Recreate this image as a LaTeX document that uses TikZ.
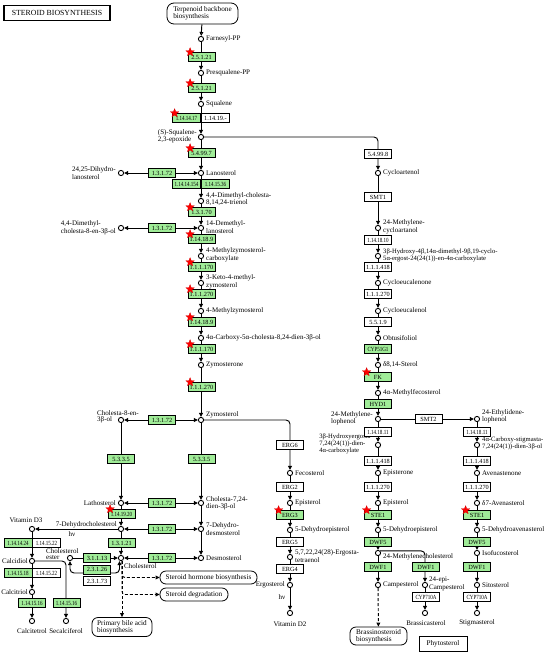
\documentclass[tikz,border=0pt]{standalone}
\usepackage{fontspec}
\usepackage{graphicx}
\setmainfont{Liberation Serif}
\usetikzlibrary{arrows.meta,shapes.geometric,calc}
\definecolor{kgreen}{RGB}{160,236,152}
\pgfdeclarelayer{bg}
\pgfsetlayers{bg,main}
\tikzset{
 cpd/.style={circle,draw,fill=white,line width=0.9pt,inner sep=0pt,minimum size=5.2pt},
 enz/.style={rectangle,draw,fill=white,line width=0.8pt,inner sep=0pt,minimum width=27pt,minimum height=9pt,font=\fontsize{6.3}{6.5}\selectfont},
 genz/.style={enz,fill=kgreen},
 lbl/.style={inner sep=0pt,align=left,font=\fontsize{7}{6}\selectfont},
 conn/.style={line width=0.95pt},
 arr/.style={conn,-{Triangle[length=4pt,width=3.8pt]}},
 arrb/.style={conn,{Triangle[length=4pt,width=3.8pt]}-{Triangle[length=4pt,width=3.8pt]}},
 oarr/.style={conn,-{Triangle[open,length=4pt,width=3.8pt]}},
 darr/.style={conn,dash pattern=on 3pt off 2pt,-{Triangle[open,length=4pt,width=3.8pt]}},
 mapbox/.style={draw,rounded corners=6pt,line width=0.8pt,inner sep=1pt,align=left,font=\fontsize{7.2}{6.8}\selectfont,fill=white},
 kstarst/.style={star,star points=5,star point ratio=2.3,fill=red,draw=red!80!black,line width=0.2pt,inner sep=0pt,minimum size=9pt},
}
\newcommand\kstar[1]{\node[kstarst] (s-#1) at ([xshift=2.5pt]#1.north west) {};}
\newcommand\nw[1]{\scalebox{0.8}[1]{#1}}
\begin{document}
\begin{tikzpicture}[x=1pt,y=-1pt]
\useasboundingbox (0,0) rectangle (550,654);
% title and map boxes
\node[draw,line width=1.3pt,minimum width=106pt,minimum height=15pt,inner sep=0pt,font=\fontsize{7.8}{8}\selectfont] (title) at (57,13) {STEROID BIOSYNTHESIS};
\node[mapbox,minimum width=71pt,minimum height=21pt,rounded corners=7pt] (terp) at (202.5,13.5) {Terpenoid backbone\\biosynthesis};
\node[mapbox,minimum width=97pt,minimum height=13pt,align=center] (hormone) at (208.5,577.5) {Steroid hormone biosynthesis};
\node[mapbox,minimum width=68pt,minimum height=13pt,align=center] (degr) at (194,594.5) {Steroid degradation};
\node[mapbox,minimum width=60pt,minimum height=19pt] (bile) at (122,627) {Primary bile acid\\biosynthesis};
\node[mapbox,minimum width=57pt,minimum height=18pt] (brass) at (378.5,636) {Brassinosteroid\\biosynthesis};
\node[draw,line width=0.8pt,minimum width=48pt,minimum height=15pt,inner sep=0pt,font=\fontsize{7.2}{7}\selectfont] (phyto) at (443,644) {Phytosterol};

% ---------- compounds: main column
\node[cpd] (farn) at (201,39) {};
\node[cpd] (presq) at (201,73) {};
\node[cpd] (squal) at (201,104) {};
\node[cpd] (sqep) at (201,137) {};
\node[cpd] (lano) at (201,173) {};
\node[cpd] (dmct) at (201,201) {};
\node[cpd] (demlano) at (201,228) {};
\node[cpd] (mzc) at (201,256) {};
\node[cpd] (kmz) at (201,283) {};
\node[cpd] (mz) at (201,311) {};
\node[cpd] (carb) at (201,338) {};
\node[cpd] (zymone) at (201,365) {};
\node[cpd] (zym) at (201,420) {};
\node[cpd] (c724) at (201,503) {};
\node[cpd] (dhdes) at (201,529) {};
\node[cpd] (desmo) at (201,558) {};
% left column
\node[cpd] (dhlano) at (121,173) {};
\node[cpd] (dmc8) at (121,228) {};
\node[cpd] (c8) at (121,420) {};
\node[cpd] (latho) at (121,503) {};
\node[cpd] (dhc) at (121,529) {};
\node[cpd] (chol) at (121,558) {};
\node[cpd] (cholest) at (70,558) {};
\node[cpd] (vd3) at (32,529) {};
\node[cpd] (calcidiol) at (32,561) {};
\node[cpd] (calcitriol) at (32,592) {};
\node[cpd] (calcitetrol) at (32,621) {};
\node[cpd] (secal) at (66,621) {};
% right column
\node[cpd] (cycloart) at (378,173) {};
\node[cpd] (mca) at (378,228) {};
\node[cpd] (hdc) at (378,256) {};
\node[cpd] (cycloeuc) at (378,283) {};
\node[cpd] (cycloeucol) at (378,311) {};
\node[cpd] (obtus) at (378,338) {};
\node[cpd] (d814) at (378,365) {};
\node[cpd] (mfec) at (378,393) {};
\node[cpd] (mlop) at (378,419) {};
\node[cpd] (elop) at (477,419) {};
\node[cpd] (hec) at (378,445) {};
\node[cpd] (cstig) at (477,445) {};
\node[cpd] (episterone) at (378,473) {};
\node[cpd] (avenast) at (477,473) {};
\node[cpd] (episterol2) at (378,503) {};
\node[cpd] (d7av) at (477,503) {};
\node[cpd] (dhepi2) at (378,530) {};
\node[cpd] (dhav) at (477,530) {};
\node[cpd] (mchol) at (378,553) {};
\node[cpd] (isofuc) at (477,553) {};
\node[cpd] (campest) at (378,585) {};
\node[cpd] (epicamp) at (425,585) {};
\node[cpd] (sitost) at (477,585) {};
\node[cpd] (brassica) at (425,613) {};
\node[cpd] (stigm) at (477,613) {};
% ERG column
\node[cpd] (fecost) at (290,473) {};
\node[cpd] (episterol1) at (290,503) {};
\node[cpd] (dhepi1) at (290,530) {};
\node[cpd] (ergtet) at (290,557) {};
\node[cpd] (ergost) at (290,585) {};
\node[cpd] (vd2) at (290,613) {};

% ---------- labels
\node[lbl,anchor=west] (l-farn) at (206,39) {Farnesyl-PP};
\node[lbl,anchor=west] (l-presq) at (206,73) {Presqualene-PP};
\node[lbl,anchor=west] (l-squal) at (206,104) {Squalene};
\node[lbl,anchor=east] (l-sqep) at (197,136) {(S)-Squalene-\\2,3-epoxide};
\node[lbl,anchor=west] (l-lano) at (206,173) {Lanosterol};
\node[lbl,anchor=west] (l-dmct) at (206,199) {4,4-Dimethyl-cholesta-\\8,14,24-trienol};
\node[lbl,anchor=west] (l-demlano) at (206,227) {14-Demethyl-\\lanosterol};
\node[lbl,anchor=west] (l-mzc) at (206,255) {4-Methylzymosterol-\\carboxylate};
\node[lbl,anchor=west] (l-kmz) at (206,282) {3-Keto-4-methyl-\\zymosterol};
\node[lbl,anchor=west] (l-mz) at (206,311) {4-Methylzymosterol};
\node[lbl,anchor=west] (l-carb) at (206,338) {4α-Carboxy-5α-cholesta-8,24-dien-3β-ol};
\node[lbl,anchor=west] (l-zymone) at (206,365) {Zymosterone};
\node[lbl,anchor=west] (l-zym) at (206,415) {Zymosterol};
\node[lbl,anchor=west] (l-c724) at (206,503) {Cholesta-7,24-\\dien-3β-ol};
\node[lbl,anchor=west] (l-dhdes) at (206,529) {7-Dehydro-\\desmosterol};
\node[lbl,anchor=west] (l-desmo) at (206,558) {Desmosterol};
\node[lbl,anchor=east] (l-dhlano) at (116,173) {24,25-Dihydro-\\lanosterol};
\node[lbl,anchor=east] (l-dmc8) at (116,228) {4,4-Dimethyl-\\cholesta-8-en-3β-ol};
\node[lbl,anchor=west] (l-c8) at (97,416.5) {Cholesta-8-en-\\3β-ol};
\node[lbl,anchor=east] (l-latho) at (116,503) {Lathosterol};
\node[lbl,anchor=south east] (l-dhc) at (117,528) {7-Dehydrocholesterol};
\node[lbl,anchor=west] (l-chol) at (124,566) {Cholesterol};
\node[lbl,anchor=west] (l-cholest) at (46,554) {Cholesterol\\ester};
\node[lbl] (l-vd3) at (26,520) {Vitamin D3};
\node[lbl,anchor=east] (l-calcidiol) at (28,561) {Calcidiol};
\node[lbl,anchor=east] (l-calcitriol) at (28,592) {Calcitriol};
\node[lbl] (l-calcitetrol) at (32,631) {Calcitetrol};
\node[lbl] (l-secal) at (66,631) {Secalciferol};
\node[lbl] (l-hv1) at (72,534.5) {hν};
\node[lbl,anchor=west] (l-cycloart) at (383,173) {Cycloartenol};
\node[lbl,anchor=west] (l-mca) at (383,227) {24-Methylene-\\cycloartanol};
\node[lbl,anchor=west,font=\fontsize{6.6}{5.5}\selectfont] (l-hdc) at (383,255.5) {3β-Hydroxy-4β,14α-dimethyl-9β,19-cyclo-\\5α-ergost-24(24(1))-en-4α-carboxylate};
\node[lbl,anchor=west] (l-cycloeuc) at (383,283) {Cycloeucalenone};
\node[lbl,anchor=west] (l-cycloeucol) at (383,311) {Cycloeucalenol};
\node[lbl,anchor=west] (l-obtus) at (383,338) {Obtusifoliol};
\node[lbl,anchor=west] (l-d814) at (383,365) {δ8,14-Sterol};
\node[lbl,anchor=west] (l-mfec) at (383,393) {4α-Methylfecosterol};
\node[lbl,anchor=east] (l-mlop) at (373,418) {24-Methylene-\\lophenol};
\node[lbl,anchor=west] (l-elop) at (482,416) {24-Ethylidene-\\lophenol};
\node[lbl,anchor=east,font=\fontsize{6.6}{5.5}\selectfont] (l-hec) at (373,444) {3β-Hydroxyergosta-\\7,24(24(1))-dien-\\4α-carboxylate};
\node[lbl,anchor=west,font=\fontsize{6.6}{5.5}\selectfont] (l-cstig) at (482,443) {4α-Carboxy-stigmasta-\\7,24(24(1))-dien-3β-ol};
\node[lbl,anchor=west] (l-episterone) at (383,473) {Episterone};
\node[lbl,anchor=west] (l-avenast) at (482,473) {Avenastenone};
\node[lbl,anchor=west] (l-episterol2) at (383,503) {Episterol};
\node[lbl,anchor=west] (l-d7av) at (482,503) {δ7-Avenasterol};
\node[lbl,anchor=west] (l-dhepi2) at (383,530) {5-Dehydroepisterol};
\node[lbl,anchor=west] (l-dhav) at (482,530) {5-Dehydroavenasterol};
\node[lbl,anchor=west] (l-mchol) at (383,556.5) {24-Methylenecholesterol};
\node[lbl,anchor=west] (l-isofuc) at (482,553) {Isofucosterol};
\node[lbl,anchor=west] (l-campest) at (383,585) {Campesterol};
\node[lbl,anchor=west] (l-epicamp) at (429,584) {24-epi-\\Campesterol};
\node[lbl,anchor=west] (l-sitost) at (482,585) {Sitosterol};
\node[lbl] (l-brassica) at (426,623) {Brassicasterol};
\node[lbl] (l-stigm) at (477,623) {Stigmasterol};
\node[lbl,anchor=west] (l-fecost) at (295,473) {Fecosterol};
\node[lbl,anchor=west] (l-episterol1) at (295,503) {Episterol};
\node[lbl,anchor=west] (l-dhepi1) at (295,530) {5-Dehydroepisterol};
\node[lbl,anchor=west] (l-ergtet) at (295,556) {5,7,22,24(28)-Ergosta-\\tetraenol};
\node[lbl,anchor=east] (l-ergost) at (285,585) {Ergosterol};
\node[lbl] (l-vd2) at (290,624) {Vitamin D2};
\node[lbl] (l-hv2) at (282,597) {hν};

% ---------- enzymes: main column
\node[genz] (e1) at (201.5,57) {2.5.1.21};
\node[genz] (e2) at (201.5,88) {2.5.1.21};
\node[genz,minimum width=28pt] (e3) at (186.5,118) {\nw{1.14.14.17}};
\node[enz,minimum width=28pt] (e3b) at (215.5,118) {1.14.19.-};
\node[genz] (e4) at (201.5,153) {5.4.99.7};
\node[genz] (e5) at (162,173) {1.3.1.72};
\node[genz,minimum width=28pt] (e6) at (186.5,184) {\nw{1.14.14.154}};
\node[genz,minimum width=28pt] (e6b) at (215.5,184) {\nw{1.14.15.36}};
\node[genz] (e7) at (201.5,212) {1.3.1.70};
\node[genz] (e8) at (162,228) {1.3.1.72};
\node[genz] (e9) at (201.5,239) {1.14.18.9};
\node[genz] (e10) at (201.5,267) {1.1.1.170};
\node[genz] (e11) at (201.5,294) {1.1.1.270};
\node[genz] (e12) at (201.5,322) {1.14.18.9};
\node[genz] (e13) at (201.5,349) {1.1.1.170};
\node[genz] (e14) at (201.5,387) {1.1.1.270};
\node[genz] (e15) at (162,420) {1.3.1.72};
\node[genz] (e16) at (121,459) {5.3.3.5};
\node[genz] (e17) at (201.5,459) {5.3.3.5};
\node[genz] (e18) at (162,503) {1.3.1.72};
\node[genz] (e19) at (121.5,514) {\nw{1.14.19.20}};
\node[genz] (e20) at (162,529) {1.3.1.72};
\node[genz] (e21) at (121.5,543) {1.3.1.21};
\node[genz] (e22) at (162,558) {1.3.1.72};
\node[genz] (e23) at (97,558) {3.1.1.13};
\node[genz] (e24) at (97,569.5) {2.3.1.26};
\node[enz] (e25) at (97,581) {2.3.1.73};
\node[genz,minimum width=28pt] (e26) at (18,543) {\nw{1.14.14.24}};
\node[enz,minimum width=28pt] (e27) at (46.5,543) {\nw{1.14.15.22}};
\node[genz,minimum width=28pt] (e28) at (18,573) {\nw{1.14.15.18}};
\node[enz,minimum width=28pt] (e29) at (46.5,573) {\nw{1.14.15.22}};
\node[genz] (e30) at (32,603) {\nw{1.14.15.16}};
\node[genz] (e31) at (66.5,603) {\nw{1.14.15.16}};
% right column
\node[enz] (r1) at (378,154) {5.4.99.8};
\node[enz] (r2) at (378,197) {SMT1};
\node[enz] (r3) at (378,240) {\nw{1.14.18.10}};
\node[enz] (r4) at (378,267) {1.1.1.418};
\node[enz] (r5) at (378,294) {1.1.1.270};
\node[enz] (r6) at (378,322) {5.5.1.9};
\node[genz] (r7) at (378,349) {\nw{CYP51G1}};
\node[genz] (r8) at (378,377) {FK};
\node[genz] (r9) at (378,404) {HYD1};
\node[enz] (r10) at (428.5,419) {SMT2};
\node[enz] (r11) at (378,432) {\nw{1.14.18.11}};
\node[enz] (r12) at (477,432) {\nw{1.14.18.11}};
\node[enz] (r13) at (378,461) {1.1.1.418};
\node[enz] (r14) at (477,461) {1.1.1.418};
\node[enz] (r15) at (378,487) {1.1.1.270};
\node[enz] (r16) at (477,487) {1.1.1.270};
\node[genz] (r17) at (378,515) {STE1};
\node[genz] (r18) at (477,515) {STE1};
\node[genz] (r19) at (378,542) {DWF5};
\node[genz] (r20) at (477,542) {DWF5};
\node[genz] (r21) at (378,567) {DWF1};
\node[genz] (r22) at (426,567) {DWF1};
\node[genz] (r23) at (477,567) {DWF1};
\node[enz] (r24) at (426,597) {\nw{CYP710A}};
\node[enz] (r25) at (477,597) {\nw{CYP710A}};
% ERG column
\node[enz] (g1) at (290,445) {ERG6};
\node[enz] (g2) at (290,487) {ERG2};
\node[genz] (g3) at (290,515) {ERG3};
\node[enz] (g4) at (290,542) {ERG5};
\node[enz] (g5) at (290,569) {ERG4};

% stars
\kstar{e1}\kstar{e2}\kstar{e3}\kstar{e4}\kstar{e7}\kstar{e9}\kstar{e10}\kstar{e11}
\kstar{e12}\kstar{e13}\kstar{e14}\kstar{e19}\kstar{r8}\kstar{r17}\kstar{r18}\kstar{g3}

% ---------- connectors
\begin{pgfonlayer}{bg}
\draw[oarr] (terp) -- (farn);
\draw[arr] (farn) -- (presq);
\draw[arr] (presq) -- (squal);
\draw[arr] (squal) -- (sqep);
\draw[arr] (sqep) -- (lano);
\draw[arr] (lano) -- (dmct);
\draw[arr] (dmct) -- (demlano);
\draw[arr] (demlano) -- (mzc);
\draw[arr] (mzc) -- (kmz);
\draw[arr] (kmz) -- (mz);
\draw[arr] (mz) -- (carb);
\draw[arr] (carb) -- (zymone);
\draw[arr] (zymone) -- (zym);
\draw[arr] (zym) -- (c724);
\draw[arr] (c724) -- (dhdes);
\draw[arr] (dhdes) -- (desmo);
\draw[arrb] (dhlano) -- (lano);
\draw[arrb] (dmc8) -- (demlano);
\draw[arrb] (c8) -- (zym);
\draw[arrb] (latho) -- (c724);
\draw[arrb] (dhc) -- (dhdes);
\draw[arrb] (chol) -- (desmo);
\draw[arr] (c8) -- (latho);
\draw[arr] (latho) -- (dhc);
\draw[arr] (dhc) -- (chol);
\draw[arr] (dhc) -- (vd3);
\draw[arr] (vd3) -- (calcidiol);
\draw[arr] (calcidiol) -- (calcitriol);
\draw[arr] (calcitriol) -- (calcitetrol);
\draw[arr,rounded corners=4pt] (calcidiol) -| (secal);
\draw[arr] (cholest) -- (chol);
\draw[arrb,rounded corners=4pt] (cholest) -- ++(0,15) -| ([xshift=-1.5pt]chol.south);
\draw[darr] ([xshift=1pt]chol.south) -- ([xshift=1pt]chol.south |- bile.north);
\draw[darr,rounded corners=3pt] ([xshift=1pt]chol.south) |- (hormone);
\draw[darr,rounded corners=3pt] ([xshift=1pt]chol.south) |- (degr);
% plant branch
\draw[arr,rounded corners=4pt] (sqep) -| (cycloart);
\draw[arr] (cycloart) -- (mca);
\draw[arr] (mca) -- (hdc);
\draw[arr] (hdc) -- (cycloeuc);
\draw[arr] (cycloeuc) -- (cycloeucol);
\draw[arr] (cycloeucol) -- (obtus);
\draw[arr] (obtus) -- (d814);
\draw[arr] (d814) -- (mfec);
\draw[arr] (mfec) -- (mlop);
\draw[arr] (mlop) -- (elop);
\draw[arr] (mlop) -- (hec);
\draw[arr] (hec) -- (episterone);
\draw[arr] (episterone) -- (episterol2);
\draw[arr] (episterol2) -- (dhepi2);
\draw[arr] (dhepi2) -- (mchol);
\draw[arr] (mchol) -- (campest);
\draw[arr,rounded corners=4pt] (mchol.north east) -| (epicamp);
\draw[arr] (epicamp) -- (brassica);
\draw[darr] (campest) -- (brass);
\draw[arr] (elop) -- (cstig);
\draw[arr] (cstig) -- (avenast);
\draw[arr] (avenast) -- (d7av);
\draw[arr] (d7av) -- (dhav);
\draw[arr] (dhav) -- (isofuc);
\draw[arr] (isofuc) -- (sitost);
\draw[arr] (sitost) -- (stigm);
% ergosterol branch
\draw[arr,rounded corners=4pt] (zym) -| (fecost);
\draw[arr] (fecost) -- (episterol1);
\draw[arr] (episterol1) -- (dhepi1);
\draw[arr] (dhepi1) -- (ergtet);
\draw[arr] (ergtet) -- (ergost);
\draw[arr] (ergost) -- (vd2);
\end{pgfonlayer}
\end{tikzpicture}
\end{document}
